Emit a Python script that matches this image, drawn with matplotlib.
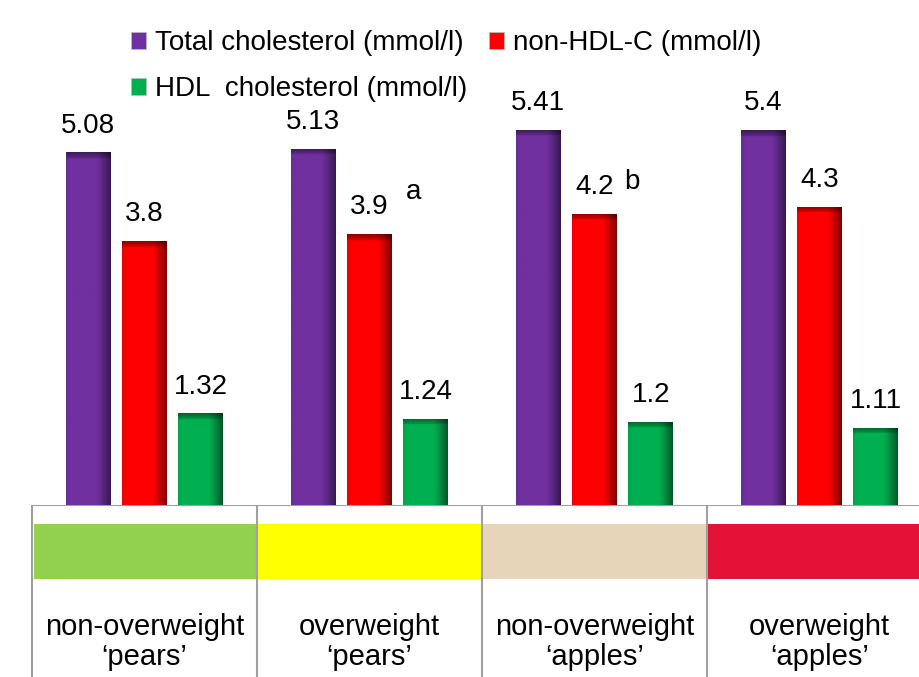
import numpy as np
import matplotlib.pyplot as plt
import matplotlib.colors as mcolors
from matplotlib.patches import Patch, Rectangle

plt.rcParams['font.family'] = ['Liberation Sans', 'DejaVu Sans']

groups = ["non-overweight\n‘pears’", "overweight\n‘pears’",
          "non-overweight\n‘apples’", "overweight\n‘apples’"]
total = [5.08, 5.13, 5.41, 5.4]
nonhdl = [3.8, 3.9, 4.2, 4.3]
hdl = [1.32, 1.24, 1.2, 1.11]
series_names = ["Total cholesterol (mmol/l)", "non-HDL-C (mmol/l)", "HDL  cholesterol (mmol/l)"]
series_colors = ["#7030A0", "#FF0000", "#00B050"]
group_colors = ["#92D050", "#FFFF00", "#E6D5B8", "#E41236"]
# significance letters next to the non-HDL bars
letters = {1: "a", 2: "b"}
letter_pos = {1: (0.198, 0.61), 2: (0.167, 0.45)}  # offset from group centre / bar top

W, H = 920, 677
fig = plt.figure(figsize=(W / 100, H / 100), dpi=100)

base_px = 505
ax = fig.add_axes([32 / W, (H - base_px) / H, 888 / W, base_px / H])
x = np.arange(len(groups))
offsets = [-0.25, 0, 0.25]
bw = 0.2


def shade(bar, color):
    x0, w, h = bar.get_x(), bar.get_width(), bar.get_height()
    nx, ny = 60, 600
    xs = np.linspace(0, 1, nx)
    fx = np.where(xs < 0.68, 1.0, 1 - 0.5 * ((xs - 0.68) / 0.32) ** 1.2)
    fx = fx * (1 - 0.06 * np.clip(1 - xs / 0.1, 0, 1))
    ys = np.linspace(0, h, ny)
    band = 0.085
    fy = np.where(ys > h - band, 0.55 + 0.3 * (h - ys) / band, 1.0)
    rgb = np.array(mcolors.to_rgb(color))
    img = rgb[None, None, :] * fx[None, :, None] * fy[:, None, None]
    im = ax.imshow(np.clip(img, 0, 1), extent=(x0, x0 + w, 0, h), origin='lower',
                   aspect='auto', interpolation='bilinear', zorder=3)
    im.set_clip_path(bar)


for vals, off, col in zip([total, nonhdl, hdl], offsets, series_colors):
    bars = ax.bar(x + off, vals, bw, color=col, zorder=2)
    for b, v in zip(bars, vals):
        shade(b, col)
        ax.text(b.get_x() + bw / 2, v + 0.2, f"{v:g}", ha='center', va='bottom',
                fontsize=20)

for i, letter in letters.items():
    dx, dy = letter_pos[i]
    ax.text(x[i] + dx, nonhdl[i] + dy, letter, ha='center', va='center', fontsize=20)

ax.set_xlim(-0.5, -0.5 + 888 / 225)
ax.set_ylim(0, base_px / 69.4)
ax.axis('off')

# category table below the bars
tax = fig.add_axes([0, 0, 1, (H - base_px) / H])
tax.set_xlim(-0.5 - 32 / 225, -0.5 + 888 / 225)
tax.set_ylim(H - base_px, 0)
tax.axis('off')
tax.plot([-0.5, 4], [0, 0], color='#A0A0A0', lw=1.5, solid_capstyle='butt')
for i in range(len(groups)):
    tax.plot([i - 0.5, i - 0.5], [0, H - base_px], color='#A0A0A0', lw=1.5)
    left = i - 0.5 + (0.01 if i == 0 else 0)
    tax.add_patch(Rectangle((left, 19), i + 0.5 - left, 55, color=group_colors[i], lw=0))
    tax.text(i, 137, groups[i], ha='center', va='center', fontsize=21, linespacing=1.12)

handles = [Patch(facecolor=c, edgecolor='#BBBBBB', lw=0.5) for c in series_colors]
order = [0, 2, 1]
fig.legend([handles[k] for k in order], [series_names[k] for k in order],
           ncol=2, loc='upper left', bbox_to_anchor=(131 / W, 1 - 30 / H),
           bbox_transform=fig.transFigure, frameon=False, fontsize=20,
           handlelength=0.55, handleheight=0.55, handletextpad=0.3,
           columnspacing=0.8, labelspacing=0.72, borderpad=0, borderaxespad=0)

fig.savefig("out.png", dpi=100)
